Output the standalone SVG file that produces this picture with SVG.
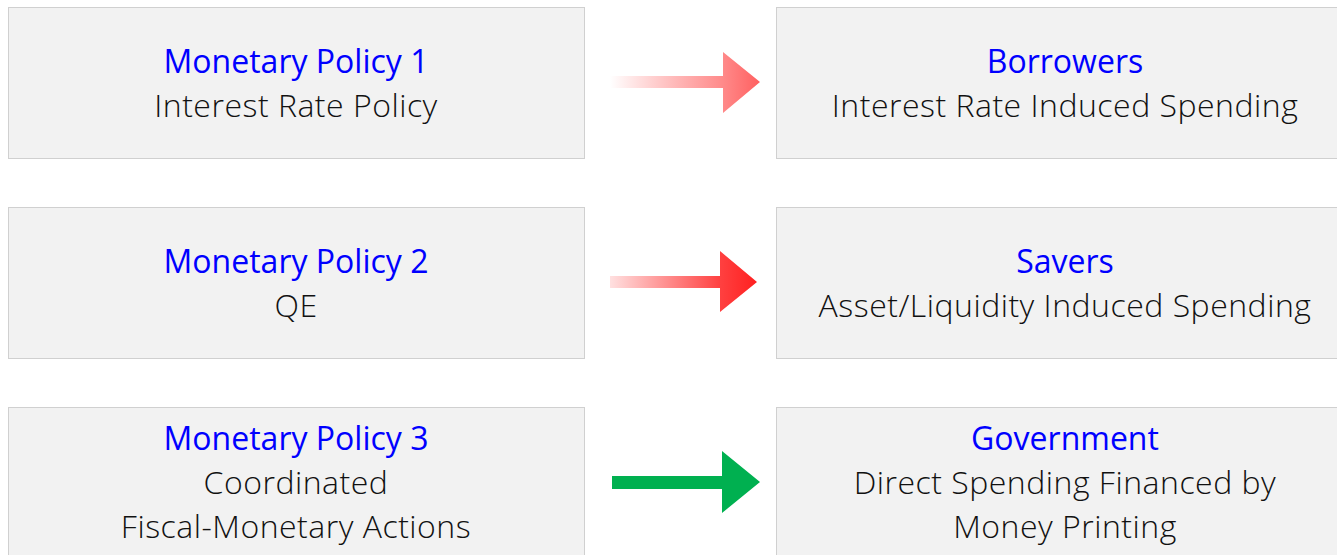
<svg xmlns="http://www.w3.org/2000/svg" width="1337" height="555" viewBox="0 0 1337 555">
<style>
.box{fill:#f2f2f2;stroke:#d0d0d0;stroke-width:1}
.t{font-family:"Open Sans","Noto Sans",sans-serif;font-size:32px;text-anchor:middle}
.h{fill:#0000ff}
.b{fill:#111111;font-weight:300;letter-spacing:0.5px}
</style>
<defs>
<linearGradient id="g1" gradientUnits="userSpaceOnUse" x1="610" y1="0" x2="760" y2="0">
<stop offset="0" stop-color="#ff8080" stop-opacity="0"/>
<stop offset="0.75" stop-color="#ff8a8a"/>
<stop offset="1" stop-color="#ff6060"/>
</linearGradient>
<linearGradient id="g2" gradientUnits="userSpaceOnUse" x1="610" y1="0" x2="757" y2="0">
<stop offset="0" stop-color="#ffe0e0"/>
<stop offset="0.75" stop-color="#ff4040"/>
<stop offset="1" stop-color="#ff2020"/>
</linearGradient>
</defs>
<g id="mp1"><rect class="box" x="8.5" y="7.5" width="576" height="151"/>
<text class="t h" x="296" y="73">Monetary Policy 1</text>
<text class="t b" x="296" y="117">Interest Rate Policy</text></g>
<g id="mp2"><rect class="box" x="8.5" y="207.5" width="576" height="151"/>
<text class="t h" x="296" y="273">Monetary Policy 2</text>
<text class="t b" x="296" y="317">QE</text></g>
<g id="mp3"><rect class="box" x="8.5" y="407.5" width="576" height="160"/>
<text class="t h" x="296" y="450">Monetary Policy 3</text>
<text class="t b" x="296" y="494">Coordinated</text>
<text class="t b" x="296" y="538">Fiscal-Monetary Actions</text></g>
<g id="borrowers"><rect class="box" x="776.5" y="7.5" width="576" height="151"/>
<text class="t h" x="1065" y="73">Borrowers</text>
<text class="t b" x="1065" y="117">Interest Rate Induced Spending</text></g>
<g id="savers"><rect class="box" x="776.5" y="207.5" width="576" height="151"/>
<text class="t h" x="1065" y="273">Savers</text>
<text class="t b" x="1065" y="317">Asset/Liquidity Induced Spending</text></g>
<g id="government"><rect class="box" x="776.5" y="407.5" width="576" height="160"/>
<text class="t h" x="1065" y="450">Government</text>
<text class="t b" x="1065" y="494">Direct Spending Financed by</text>
<text class="t b" x="1065" y="538">Money Printing</text></g>
<g id="connectors">
<polygon fill="url(#g1)" points="610,76 723,76 723,52 760,82 723,113 723,88 610,88"/>
<polygon fill="url(#g2)" points="610,276 720,276 720,251 757,282 720,312 720,288 610,288"/>
<polygon fill="#00b050" points="612,476 722,476 722,451 760,482 722,513 722,489 612,489"/>
</g>
</svg>
